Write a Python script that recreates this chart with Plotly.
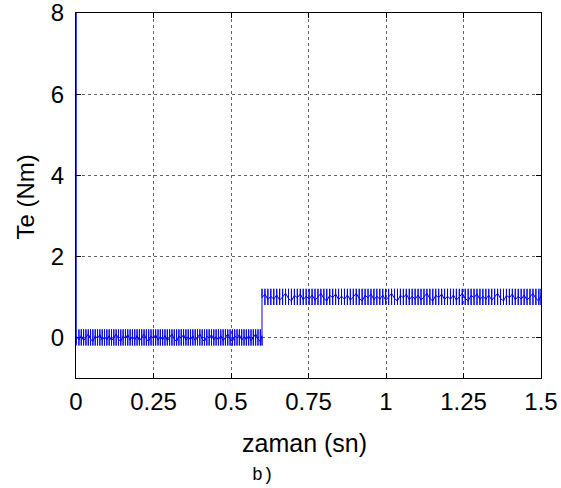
import plotly.graph_objects as go

# ---- data ----
x_tickvals = [0, 0.25, 0.5, 0.75, 1.0, 1.25, 1.5]
x_ticktext = ["0", "0.25", "0.5", "0.75", "1", "1.25", "1.5"]
y_tickvals = [0, 2, 4, 6, 8]
y_ticktext = ["0", "2", "4", "6", "8"]

# start-up spike
spike_t = [0.0, 0.0, 0.0, 0.002]
spike_te = [0.0, 8.0, -0.2, 0.05]

# two load segments: band limits (Nm) and switching spacing (s)
seg_start = [0.002, 0.6]
seg_end = [0.6, 1.5]
seg_low = [-0.2, 0.8]
seg_high = [0.2, 1.2]
seg_step = [0.0075, 0.0095]
# mid-level position inside the band (fraction), repeating
mid_pattern = [0.55, 0.35, 0.62, 0.3, 0.5, 0.72, 0.4, 0.25, 0.6, 0.45, 0.68, 0.33]

t = list(spike_t)
te = list(spike_te)
k = 0
for s, e, lo, hi, st in zip(seg_start, seg_end, seg_low, seg_high, seg_step):
    n = int(round((e - s) / st))
    for i in range(n + 1):
        ti = s + i * st
        if ti > e:
            ti = e
        mid = lo + (hi - lo) * mid_pattern[k % len(mid_pattern)]
        k += 1
        t += [ti, ti, ti, ti]
        te += [mid, hi, lo, mid]

fig = go.Figure()
fig.add_trace(go.Scatter(x=t, y=te, mode="lines",
                         line=dict(color="#0000ff", width=1),
                         showlegend=False, hoverinfo="skip", cliponaxis=True))

axis_common = dict(
    showline=True, linecolor="black", linewidth=1, mirror="ticks",
    ticks="inside", ticklen=5, tickcolor="black", tickwidth=1,
    showgrid=True, gridcolor="#666666", griddash="dot", gridwidth=1,
    zeroline=False, automargin=False, ticklabeloverflow="allow",
    tickfont=dict(family="Liberation Sans, Arial", size=24, color="black"),
)

fig.update_xaxes(range=[0, 1.5], tickvals=x_tickvals, ticktext=x_ticktext,
                 ticklabelstandoff=2, **axis_common)
fig.update_yaxes(range=[-1, 8], tickvals=y_tickvals, ticktext=y_ticktext,
                 ticklabelstandoff=6, **axis_common)

fig.update_layout(
    width=561, height=488,
    margin=dict(l=76, r=20, t=13, b=110),
    paper_bgcolor="white", plot_bgcolor="white",
    annotations=[
        dict(text="zaman (sn)", xref="paper", yref="paper", x=0.5, y=0,
             xshift=-4, yshift=-65, showarrow=False, yanchor="middle",
             font=dict(family="Liberation Sans, Arial", size=25, color="black")),
        dict(text="b)", xref="paper", yref="paper", x=0.5, y=0,
             xshift=-46, yshift=-97, showarrow=False, yanchor="middle",
             font=dict(family="Liberation Mono, Courier New", size=18, color="black")),
        dict(text="Te (Nm)", xref="paper", yref="paper", x=0, y=0.5,
             xshift=-51, yshift=-2, textangle=-90, showarrow=False,
             xanchor="center", yanchor="middle",
             font=dict(family="Liberation Sans, Arial", size=24, color="black")),
    ],
)

fig.write_html("out.html", config={"displayModeBar": False},
               post_script="document.body.style.margin='0';document.body.style.overflow='hidden';")
